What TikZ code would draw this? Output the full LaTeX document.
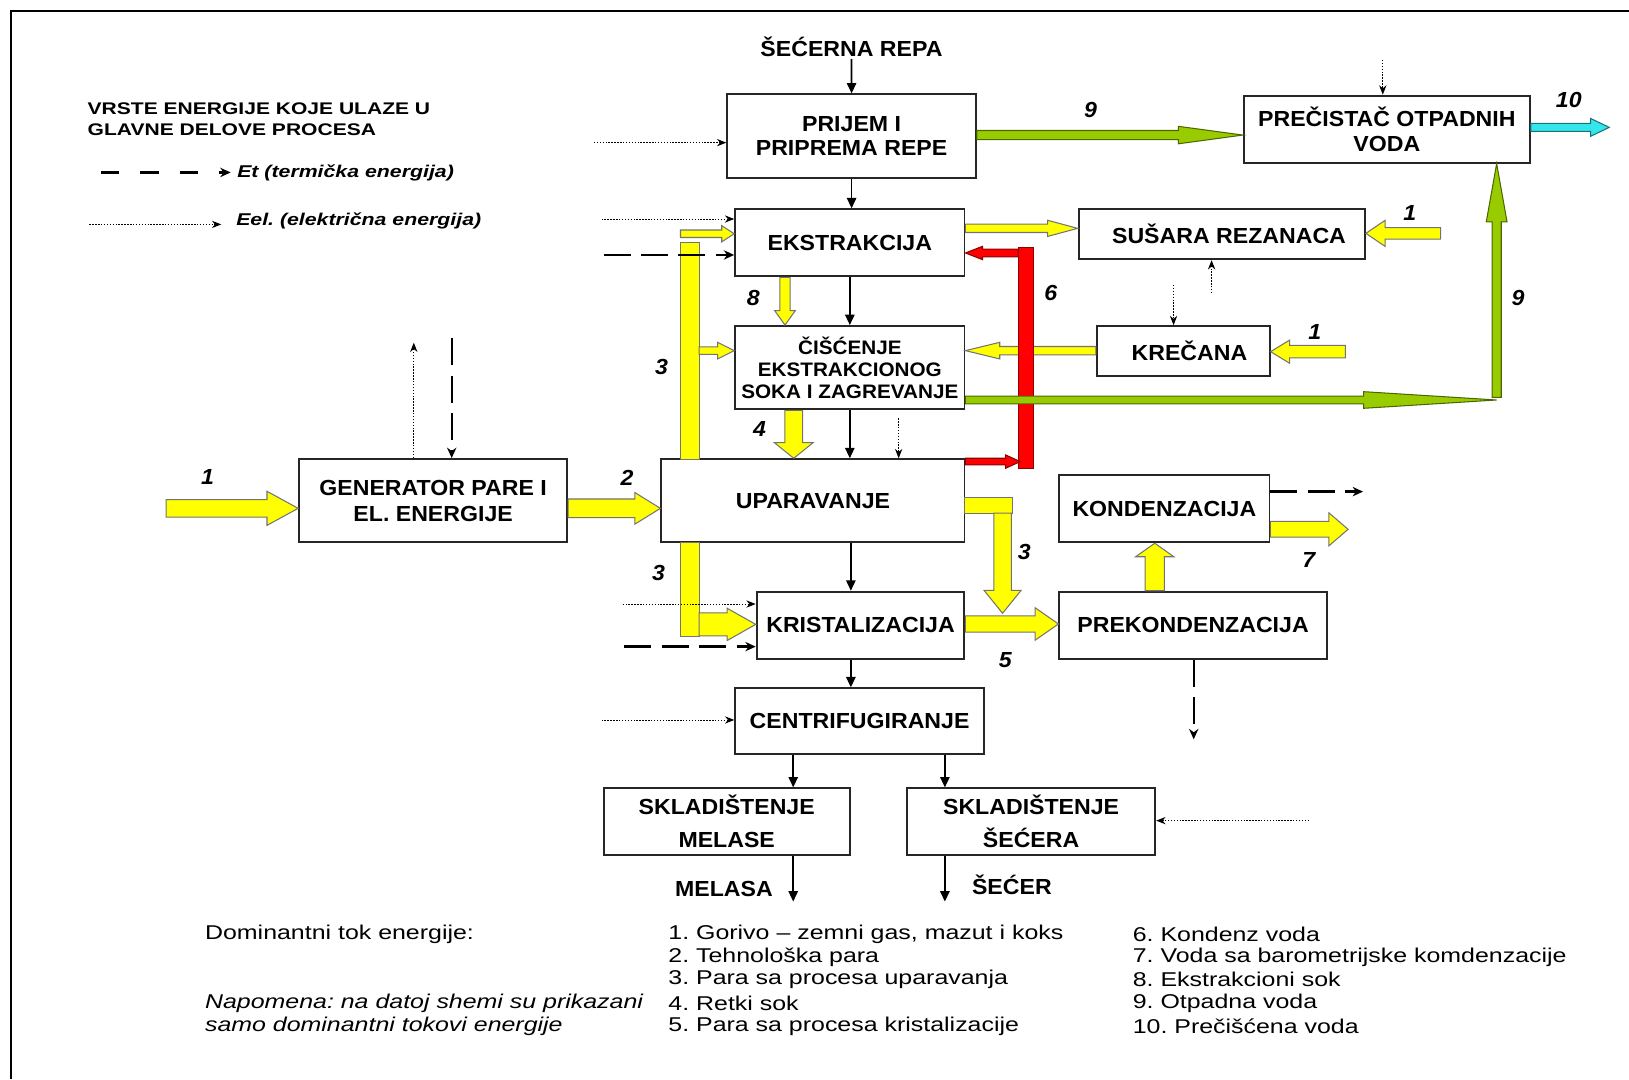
\documentclass[tikz,border=0pt]{standalone}
\usepackage{fontspec}
\setmainfont{Liberation Sans}
\newfontfamily\boxfont[FakeStretch=1.06]{Liberation Sans}
\newfontfamily\legfont[FakeStretch=1.25]{Liberation Sans}
\usetikzlibrary{calc,arrows.meta}
\frenchspacing

\definecolor{fatyellow}{RGB}{255,255,0}
\definecolor{fatgreen}{RGB}{153,204,0}
\definecolor{fatred}{RGB}{255,0,0}
\definecolor{fatcyan}{RGB}{51,230,235}

% fat arrow: style, from, to, half shaft, half head, head length
\newcommand{\fatarrow}[6]{%
  \coordinate (fa-h) at ($(#3)!#6!(#2)$);
  \draw[#1] ($(#2)!#4!90:(#3)$) -- ($(fa-h)!#4!-90:(#2)$) -- ($(fa-h)!#5!-90:(#2)$)
    -- (#3) -- ($(fa-h)!#5!90:(#2)$) -- ($(fa-h)!#4!90:(#2)$) -- ($(#2)!#4!-90:(#3)$) -- cycle;}

\begin{document}
\begin{tikzpicture}[x=0.5pt, y=-0.5pt,
    box/.style={draw=black!85, line width=0.9pt, inner sep=0.5pt, align=center,
      font=\boxfont\bfseries\fontsize{10.5}{12}\selectfont},
    flow/.style={line width=0.8pt, -{Triangle[length=5pt,width=4.5pt]}},
    elec/.style={line width=0.45pt, dash pattern=on 0.7pt off 0.7pt, -{Stealth[length=4.5pt,width=3.5pt]}},
    therm/.style={line width=1.1pt, dash pattern=on 13pt off 5pt, -{Stealth[length=5pt,width=4.5pt]}},
    yel/.style={fill=fatyellow, draw=black!55, line width=0.5pt},
    grn/.style={fill=fatgreen, draw=fatgreen!50!black, line width=0.5pt},
    rd/.style={fill=fatred, draw=fatred!55!black, line width=0.5pt},
    cyn/.style={fill=fatcyan, draw=fatcyan!50!black, line width=0.5pt},
    num/.style={inner sep=1pt, font=\boxfont\bfseries\itshape\fontsize{10.5}{12}\selectfont},
    lbl/.style={inner sep=1pt, font=\boxfont\bfseries\fontsize{10.5}{12}\selectfont},
    leg/.style={anchor=west, inner sep=0pt, font=\legfont\fontsize{9.6}{11}\selectfont}]

  % Frame
  \useasboundingbox (0,0) rectangle (1568,1039);
  \draw[line width=1pt] (1568,11) -- (11,11) -- (11,1039);

  % Legend
  \node[anchor=west, align=left, inner sep=0pt, font=\legfont\bfseries\fontsize{8.1}{10}\selectfont]
    (legtitle) at (84,115) {VRSTE ENERGIJE KOJE ULAZE U\\GLAVNE DELOVE PROCESA};
  \coordinate (lt0) at (97,166);
  \coordinate (lt1) at (222,166);
  \draw[therm, dash pattern=on 9pt off 10pt] (lt0) -- (lt1);
  \node[anchor=west, inner sep=0pt, font=\legfont\bfseries\itshape\fontsize{8.2}{10}\selectfont]
    (legth) at (228,166) {Et (termička energija)};
  \coordinate (le0) at (86,216);
  \coordinate (le1) at (213,216);
  \draw[elec] (le0) -- (le1);
  \node[anchor=west, inner sep=0pt, font=\legfont\bfseries\itshape\fontsize{8.2}{10}\selectfont]
    (legel) at (227,213) {Eel. (električna energija)};

  % Process blocks
  \node[box, minimum width=119.7pt, minimum height=40.1pt] (prijem) at (819.7,130.9) {PRIJEM I\\PRIPREMA REPE};
  \node[box, minimum width=137.7pt, minimum height=32.3pt] (precistac) at (1334.9,124.3) {PREČISTAČ OTPADNIH\\VODA};
  \node[box, minimum width=110.4pt, minimum height=32.3pt] (ekstr) at (818,233.7) {EKSTRAKCIJA};
  \node[box, minimum width=137.8pt, minimum height=24pt] (susara) at (1176,225.5) {\hspace{7pt}SUŠARA REZANACA};
  \node[box, minimum width=110.4pt, minimum height=40.1pt, font=\boxfont\bfseries\fontsize{9.4}{10.5}\selectfont]
    (ciscenje) at (818,353.9) {ČIŠĆENJE\\EKSTRAKCIONOG\\SOKA I ZAGREVANJE};
  \node[box, minimum width=83.2pt, minimum height=24pt] (krecana) at (1138.9,337.9) {\hspace{6pt}KREČANA};
  \node[box, minimum width=129pt, minimum height=40.1pt] (gen) at (416.9,481.9) {GENERATOR PARE I\\[0.5pt]EL. ENERGIJE};
  \node[box, minimum width=145.9pt, minimum height=40pt] (upar) at (782.5,482) {UPARAVANJE};
  \node[box, minimum width=101.1pt, minimum height=32.4pt] (konden) at (1120.8,489.6) {KONDENZACIJA};
  \node[box, minimum width=100pt, minimum height=32.4pt] (krist) at (828.3,601.9) {KRISTALIZACIJA};
  \node[box, minimum width=128.7pt, minimum height=32.4pt] (prekon) at (1148.4,601.9) {PREKONDENZACIJA};
  \node[box, minimum width=119.7pt, minimum height=31.8pt] (centri) at (827.4,694.3) {CENTRIFUGIRANJE};
  \node[box, minimum width=118.5pt, minimum height=32.1pt] (skmel) at (699.5,790.9) {SKLADIŠTENJE\\[4pt]MELASE};
  \node[box, minimum width=119.5pt, minimum height=32.1pt] (sksec) at (992.5,790.9) {SKLADIŠTENJE\\[4pt]ŠEĆERA};

  % Material flow
  \node[lbl] (repa) at (819.6,44.9) {ŠEĆERNA REPA};
  \draw[flow] (repa.south) -- (prijem.north);
  \draw[flow] (prijem.south) -- (prijem.south |- ekstr.north);
  \draw[flow] (ekstr.south) -- (ciscenje.north);
  \draw[flow] (ciscenje.south) -- (ciscenje.south |- upar.north);
  \coordinate (xc) at (819,0);
  \draw[flow] (xc |- upar.south) -- (xc |- krist.north);
  \draw[flow] (xc |- krist.south) -- (xc |- centri.north);
  \coordinate (xm) at (763.5,0);
  \coordinate (xs) at (909.5,0);
  \draw[flow] (xm |- centri.south) -- (xm |- skmel.north);
  \draw[flow] (xs |- centri.south) -- (xs |- sksec.north);
  \coordinate (melout) at (763.5,867.8);
  \coordinate (secout) at (909.5,867.8);
  \draw[flow] (xm |- skmel.south) -- (melout);
  \draw[flow] (xs |- sksec.south) -- (secout);
  \node[lbl] (melasa) at (696.8,856) {MELASA};
  \node[lbl] (secer) at (974,851.8) {ŠEĆER};

  % Fuel 1 and steam 2
  \coordinate (fuel) at (160,489.3);
  \fatarrow{yel}{fuel}{gen.west |- fuel}{4.2pt}{8.2pt}{15pt}
  \fatarrow{yel}{gen.east |- fuel}{upar.west |- fuel}{4.5pt}{7.6pt}{12.3pt}

  % Steam 3 to extraction and purification
  \draw[yel] (655,233.6) rectangle (673,442);
  \coordinate (s3a) at (655,225);
  \fatarrow{yel}{s3a}{ekstr.west |- s3a}{1.8pt}{3.9pt}{6pt}
  \coordinate (s3b) at (673,337.5);
  \fatarrow{yel}{s3b}{ciscenje.west |- s3b}{1.8pt}{4pt}{8pt}

  % Steam 3 to crystallisation
  \draw[yel] (655,522) rectangle (673,612.5);
  \coordinate (s3c) at (673,601);
  \fatarrow{yel}{s3c}{krist.west |- s3c}{5.5pt}{7.8pt}{13.8pt}

  % Juice 8 and 4
  \coordinate (x8) at (755.6,0);
  \fatarrow{yel}{x8 |- ekstr.south}{x8 |- ciscenje.north}{2.5pt}{5pt}{7pt}
  \coordinate (x4) at (764,0);
  \fatarrow{yel}{x4 |- ciscenje.south}{x4 |- upar.north}{4.3pt}{9.3pt}{7.5pt}

  % Lime kiln and pulp dryer
  \coordinate (yk) at (0,337.5);
  \fatarrow{yel}{krecana.west |- yk}{ciscenje.east |- yk}{2pt}{4pt}{16.5pt}
  \coordinate (yd) at (0,219.8);
  \fatarrow{yel}{ekstr.east |- yd}{susara.west |- yd}{2pt}{3.9pt}{14.5pt}
  \coordinate (fuel2) at (1386.6,224.6);
  \fatarrow{yel}{fuel2}{susara.east |- fuel2}{2.8pt}{6.3pt}{9.3pt}
  \coordinate (fuel3) at (1295,338.5);
  \fatarrow{yel}{fuel3}{krecana.east |- fuel3}{3pt}{5.6pt}{9.2pt}

  % Vapour 3, 5 and condensation 7
  \draw[yel] (928.4,479) rectangle (975,494);
  \coordinate (v3) at (965,494);
  \coordinate (v3e) at (965,590.3);
  \fatarrow{yel}{v3}{v3e}{4.2pt}{8.9pt}{11pt}
  \coordinate (y5) at (0,600.6);
  \fatarrow{yel}{krist.east |- y5}{prekon.west |- y5}{3.9pt}{7.8pt}{11.2pt}
  \coordinate (xk) at (1111.5,0);
  \fatarrow{yel}{xk |- prekon.north}{xk |- konden.south}{4.6pt}{9.2pt}{6.5pt}
  \coordinate (y7) at (0,509.5);
  \coordinate (out7) at (1297.6,509.5);
  \fatarrow{yel}{konden.east |- y7}{out7}{3.8pt}{8pt}{9.3pt}

  % Condensate 6
  \draw[rd] (980,238.4) rectangle (994.6,450.7);
  \coordinate (r6) at (980,243.5);
  \fatarrow{rd}{r6}{ekstr.east |- r6}{1.9pt}{3.2pt}{8.2pt}
  \coordinate (r6b) at (982,444.3);
  \fatarrow{rd}{upar.east |- r6b}{r6b}{1.6pt}{3.2pt}{7pt}

  % Waste water 9 and clean water 10
  \coordinate (y9) at (0,130);
  \fatarrow{grn}{prijem.east |- y9}{precistac.west |- y9}{2.2pt}{4.2pt}{31pt}
  \coordinate (g9) at (1440.6,385);
  \coordinate (y9b) at (0,385);
  \fatarrow{grn}{ciscenje.east |- y9b}{g9}{1.9pt}{4pt}{64pt}
  \coordinate (g9b) at (1440.6,382.4);
  \fatarrow{grn}{g9b}{g9 |- precistac.south}{2.2pt}{5pt}{28pt}
  \coordinate (y10) at (0,122.6);
  \coordinate (out10) at (1549,122.6);
  \fatarrow{cyn}{precistac.east |- y10}{out10}{1.9pt}{4.3pt}{9pt}

  % Electric energy
  \coordinate (e1) at (571.7,137.3);
  \draw[elec] (e1) -- (prijem.west |- e1);
  \coordinate (e2) at (579,210.8);
  \draw[elec] (e2) -- (ekstr.west |- e2);
  \coordinate (e3) at (1331,57.7);
  \draw[elec] (e3) -- (e3 |- precistac.north);
  \coordinate (e4) at (1166.2,282.3);
  \draw[elec] (e4) -- (e4 |- susara.south);
  \coordinate (e5) at (1129.6,274.3);
  \draw[elec] (e5) -- (e5 |- krecana.north);
  \coordinate (e6) at (865,402.6);
  \draw[elec] (e6) -- (e6 |- upar.north);
  \coordinate (e7) at (398.3,329.8);
  \draw[elec] (e7 |- gen.north) -- (e7);
  \coordinate (e8) at (599.3,581.4);
  \draw[elec] (e8) -- (krist.west |- e8);
  \coordinate (e9) at (579,693);
  \draw[elec] (e9) -- (centri.west |- e9);
  \coordinate (e10) at (1260,789.9);
  \draw[elec] (e10) -- (sksec.east |- e10);

  % Thermal energy
  \coordinate (t1) at (581,245.4);
  \draw[therm] (t1) -- (ekstr.west |- t1);
  \coordinate (t2) at (434.8,325.6);
  \draw[therm] (t2) -- (t2 |- gen.north);
  \coordinate (t3) at (601,622.4);
  \draw[therm] (t3) -- (krist.west |- t3);
  \coordinate (t4) at (1312,473.2);
  \draw[therm] (konden.east |- t4) -- (t4);
  \coordinate (t5) at (1149,711.6);
  \draw[therm] (t5 |- prekon.south) -- (t5);

  % Flow numbers
  \node[num] (n1a) at (199.8,458.8) {1};
  \node[num] (n2) at (603.6,460) {2};
  \node[num] (n3a) at (636.7,353) {3};
  \node[num] (n3b) at (634,551.8) {3};
  \node[num] (n3c) at (986,531) {3};
  \node[num] (n4) at (731,413) {4};
  \node[num] (n5) at (967.7,635) {5};
  \node[num] (n6) at (1011.5,282) {6};
  \node[num] (n7) at (1259.7,539) {7};
  \node[num] (n8) at (725,287) {8};
  \node[num] (n9a) at (1049.7,105.9) {9};
  \node[num] (n9b) at (1461.3,287) {9};
  \node[num] (n10) at (1510,96) {10};
  \node[num] (n1b) at (1357,205.3) {1};
  \node[num] (n1c) at (1265.6,319.2) {1};

  % Key to the flows
  \node[leg] (dom) at (197,899) {Dominantni tok energije:};
  \node[leg, font=\legfont\itshape\fontsize{9.6}{11}\selectfont] (nap1) at (197,966) {Napomena: na datoj shemi su prikazani};
  \node[leg, font=\legfont\itshape\fontsize{9.6}{11}\selectfont] (nap2) at (197,988) {samo dominantni tokovi energije};
  \node[leg] (k1) at (643,899) {1. Gorivo – zemni gas, mazut i koks};
  \node[leg] (k2) at (643,921) {2. Tehnološka para};
  \node[leg] (k3) at (643,943) {3. Para sa procesa uparavanja};
  \node[leg] (k4) at (643,966) {4. Retki sok};
  \node[leg] (k5) at (643,988) {5. Para sa procesa kristalizacije};
  \node[leg] (k6) at (1090,899) {6. Kondenz voda};
  \node[leg] (k7) at (1090,921) {7. Voda sa barometrijske komdenzacije};
  \node[leg] (k8) at (1090,943) {8. Ekstrakcioni sok};
  \node[leg] (k9) at (1090,966) {9. Otpadna voda};
  \node[leg] (k10) at (1090,988) {10. Prečišćena voda};
\end{tikzpicture}
\end{document}
